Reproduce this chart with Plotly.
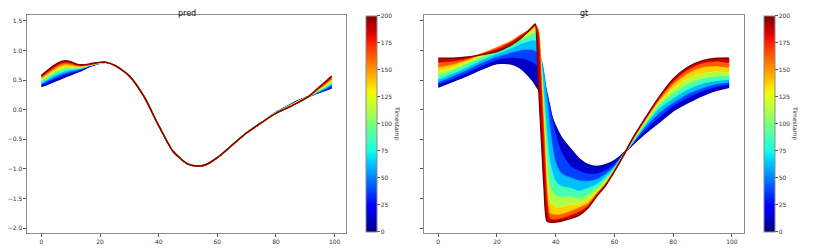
import plotly.graph_objects as go
import numpy as np

# ---------------- data ----------------
TIMESTAMPS = [0, 25, 50, 75, 100, 125, 150, 175, 200]

PRED_X = [0, 2, 4, 6, 8, 10, 12, 14, 16, 18, 20, 22, 25, 30, 35, 40, 45, 50, 53, 56, 60, 65, 70, 75, 80, 84, 88, 91, 94, 97, 99]
PRED_T0   = [0.39, 0.43, 0.47, 0.51, 0.55, 0.59, 0.63, 0.67, 0.72, 0.76, 0.79, 0.80, 0.75, 0.57, 0.22, -0.27, -0.71, -0.92, -0.95, -0.93, -0.81, -0.60, -0.39, -0.22, -0.05, 0.06, 0.16, 0.22, 0.28, 0.33, 0.37]
PRED_T25  = [0.42, 0.46, 0.51, 0.55, 0.59, 0.62, 0.65, 0.69, 0.73, 0.76, 0.79, 0.80, 0.75, 0.57, 0.22, -0.27, -0.71, -0.92, -0.95, -0.93, -0.81, -0.60, -0.39, -0.22, -0.05, 0.06, 0.16, 0.22, 0.28, 0.34, 0.39]
PRED_T50  = [0.44, 0.49, 0.54, 0.59, 0.62, 0.65, 0.67, 0.70, 0.74, 0.77, 0.79, 0.80, 0.75, 0.57, 0.22, -0.27, -0.71, -0.92, -0.95, -0.93, -0.81, -0.60, -0.39, -0.22, -0.05, 0.055, 0.155, 0.22, 0.29, 0.36, 0.42]
PRED_T75  = [0.46, 0.52, 0.58, 0.62, 0.66, 0.68, 0.69, 0.71, 0.74, 0.77, 0.79, 0.80, 0.75, 0.57, 0.22, -0.27, -0.71, -0.92, -0.95, -0.93, -0.81, -0.60, -0.39, -0.22, -0.05, 0.05, 0.15, 0.22, 0.30, 0.38, 0.44]
PRED_T100 = [0.49, 0.55, 0.61, 0.66, 0.69, 0.70, 0.71, 0.72, 0.75, 0.77, 0.79, 0.80, 0.75, 0.57, 0.22, -0.27, -0.71, -0.92, -0.95, -0.93, -0.81, -0.60, -0.39, -0.22, -0.06, 0.05, 0.15, 0.22, 0.31, 0.40, 0.47]
PRED_T125 = [0.51, 0.58, 0.65, 0.70, 0.73, 0.73, 0.72, 0.73, 0.75, 0.78, 0.79, 0.80, 0.75, 0.57, 0.22, -0.27, -0.71, -0.92, -0.95, -0.93, -0.81, -0.60, -0.39, -0.22, -0.06, 0.045, 0.145, 0.22, 0.32, 0.42, 0.50]
PRED_T150 = [0.54, 0.61, 0.68, 0.74, 0.77, 0.76, 0.74, 0.74, 0.76, 0.78, 0.80, 0.80, 0.75, 0.57, 0.22, -0.27, -0.71, -0.92, -0.95, -0.93, -0.81, -0.60, -0.39, -0.22, -0.06, 0.04, 0.14, 0.22, 0.33, 0.44, 0.52]
PRED_T175 = [0.56, 0.64, 0.71, 0.77, 0.80, 0.79, 0.76, 0.75, 0.76, 0.78, 0.80, 0.80, 0.75, 0.57, 0.22, -0.27, -0.71, -0.92, -0.95, -0.93, -0.81, -0.60, -0.39, -0.22, -0.06, 0.035, 0.135, 0.22, 0.34, 0.46, 0.55]
PRED_T200 = [0.58, 0.66, 0.74, 0.80, 0.83, 0.81, 0.77, 0.76, 0.77, 0.79, 0.80, 0.80, 0.75, 0.57, 0.22, -0.27, -0.71, -0.92, -0.95, -0.93, -0.81, -0.60, -0.39, -0.22, -0.06, 0.03, 0.13, 0.22, 0.35, 0.48, 0.57]

GT_X = [0, 5, 10, 15, 20, 25, 28, 30, 32, 33, 34, 35, 36, 37, 38, 40, 42, 45, 48, 51, 54, 57, 60, 63, 66, 70, 75, 80, 85, 90, 95, 99]
GT_T0   = [0.38, 0.48, 0.58, 0.69, 0.78, 0.77, 0.70, 0.61, 0.50, 0.43, 0.35, 0.27, 0.17, 0.07, -0.04, -0.28, -0.47, -0.66, -0.83, -0.93, -0.96, -0.93, -0.86, -0.74, -0.60, -0.42, -0.22, -0.02, 0.12, 0.24, 0.33, 0.38]
GT_T25  = [0.43, 0.52, 0.63, 0.74, 0.84, 0.88, 0.87, 0.85, 0.80, 0.77, 0.72, 0.62, 0.48, 0.28, 0.05, -0.40, -0.72, -0.95, -1.03, -1.08, -1.08, -1.02, -0.92, -0.75, -0.59, -0.37, -0.14, 0.06, 0.20, 0.31, 0.39, 0.43]
GT_T50  = [0.47, 0.57, 0.68, 0.80, 0.90, 0.97, 1.01, 1.02, 1.02, 1.00, 0.95, 0.85, 0.60, 0.20, -0.30, -0.90, -1.08, -1.15, -1.20, -1.21, -1.18, -1.09, -0.96, -0.76, -0.57, -0.32, -0.06, 0.12, 0.27, 0.37, 0.44, 0.47]
GT_T75  = [0.52, 0.62, 0.73, 0.85, 0.95, 1.05, 1.12, 1.15, 1.18, 1.18, 1.12, 0.80, 0.20, -0.45, -0.90, -1.22, -1.30, -1.33, -1.38, -1.33, -1.27, -1.15, -0.99, -0.77, -0.56, -0.28, 0.02, 0.20, 0.35, 0.45, 0.50, 0.52]
GT_T100 = [0.58, 0.67, 0.78, 0.89, 0.99, 1.11, 1.19, 1.23, 1.28, 1.30, 1.25, 0.75, 0.00, -0.85, -1.30, -1.45, -1.48, -1.47, -1.50, -1.44, -1.34, -1.19, -1.01, -0.77, -0.54, -0.25, 0.08, 0.28, 0.44, 0.53, 0.57, 0.58]
GT_T125 = [0.64, 0.72, 0.82, 0.92, 1.02, 1.15, 1.24, 1.28, 1.34, 1.37, 1.32, 0.70, -0.20, -1.10, -1.55, -1.65, -1.65, -1.61, -1.60, -1.53, -1.39, -1.22, -1.02, -0.77, -0.53, -0.23, 0.12, 0.36, 0.53, 0.62, 0.65, 0.64]
GT_T150 = [0.72, 0.77, 0.85, 0.95, 1.05, 1.16, 1.26, 1.31, 1.38, 1.41, 1.36, 0.60, -0.40, -1.35, -1.75, -1.78, -1.77, -1.72, -1.66, -1.59, -1.42, -1.25, -1.03, -0.78, -0.52, -0.21, 0.15, 0.43, 0.62, 0.72, 0.74, 0.72]
GT_T175 = [0.80, 0.82, 0.87, 0.94, 1.02, 1.14, 1.24, 1.31, 1.40, 1.44, 1.30, 0.40, -0.60, -1.55, -1.84, -1.86, -1.84, -1.79, -1.73, -1.63, -1.44, -1.27, -1.04, -0.78, -0.51, -0.19, 0.18, 0.48, 0.68, 0.79, 0.82, 0.80]
GT_T200 = [0.87, 0.87, 0.89, 0.93, 0.98, 1.10, 1.20, 1.29, 1.39, 1.45, 0.55, -0.40, -1.30, -1.88, -1.90, -1.90, -1.88, -1.84, -1.78, -1.66, -1.46, -1.28, -1.04, -0.78, -0.50, -0.18, 0.20, 0.52, 0.72, 0.83, 0.87, 0.87]

X_TICKS = [0, 20, 40, 60, 80, 100]
Y_TICKS = [-2.0, -1.5, -1.0, -0.5, 0.0, 0.5, 1.0, 1.5]
CBAR_TICKS = [0, 25, 50, 75, 100, 125, 150, 175, 200]

PRED_CURVES = [PRED_T0, PRED_T25, PRED_T50, PRED_T75, PRED_T100, PRED_T125, PRED_T150, PRED_T175, PRED_T200]
GT_CURVES = [GT_T0, GT_T25, GT_T50, GT_T75, GT_T100, GT_T125, GT_T150, GT_T175, GT_T200]


# ---------------- matplotlib "jet" colormap ----------------
def jet(v):
    r = np.interp(v, [0, 0.35, 0.66, 0.89, 1], [0, 0, 1, 1, 0.5])
    g = np.interp(v, [0, 0.125, 0.375, 0.64, 0.91, 1], [0, 0, 1, 1, 0, 0])
    b = np.interp(v, [0, 0.11, 0.34, 0.65, 1], [0.5, 1, 1, 0, 0])
    return "rgb(%d,%d,%d)" % (round(r * 255), round(g * 255), round(b * 255))


JET_SCALE = [[float(s), jet(s)] for s in np.linspace(0, 1, 41)]
TMAX = 200.0

# the page body has an 8px default margin: lay out in reference pixels minus 8
OFF = 8
W, H = 830 - OFF, 249 - OFF
FONT = "DejaVu Sans"
SPINE = "#8c8c8c"
TICKC = "#555555"


def px(x):
    return (x - OFF) / W


def py(y):
    return 1 - (y - OFF) / H


fig = go.Figure()


def add_panel(xs, curves, xa, ya):
    prev = None
    prev_t = None
    for t, ys in zip(TIMESTAMPS, curves):
        if prev is not None:
            mid = (t + prev_t) / 2.0 / TMAX
            fig.add_trace(go.Scatter(
                x=list(xs) + list(xs)[::-1], y=list(ys) + list(prev)[::-1],
                mode="lines", fill="toself", fillcolor=jet(mid),
                line=dict(width=0, shape="spline", smoothing=0.7),
                xaxis=xa, yaxis=ya, hoverinfo="skip", showlegend=False))
        fig.add_trace(go.Scatter(
            x=xs, y=ys, mode="lines",
            line=dict(color=jet(t / TMAX), width=1.4, shape="spline", smoothing=0.7),
            xaxis=xa, yaxis=ya, hoverinfo="skip", showlegend=False))
        prev, prev_t = ys, t


add_panel(PRED_X, PRED_CURVES, "x", "y")
add_panel(GT_X, GT_CURVES, "x2", "y2")


def add_cbar(x_left_px, xa, ya):
    cbar = dict(
        x=px(x_left_px), xanchor="left", xpad=0, ypad=0,
        y=py((15.7 + 231.7) / 2), yanchor="middle",
        len=(231.7 - 15.7) / H, lenmode="fraction",
        thickness=10.5, thicknessmode="pixels",
        outlinewidth=1, outlinecolor=SPINE,
        tickvals=CBAR_TICKS, ticks="outside", ticklen=2.5,
        tickcolor=TICKC, tickwidth=0.8,
        tickfont=dict(family=FONT, size=6, color="#333333"))
    marker = dict(color=[0], cmin=0, cmax=200, colorscale=JET_SCALE,
                  showscale=True, colorbar=cbar)
    fig.add_trace(go.Scatter(x=[None], y=[None], mode="markers", xaxis=xa, yaxis=ya,
                             showlegend=False, marker=marker))


add_cbar(365.0, "x", "y")
add_cbar(763.5, "x2", "y2")

axis_common = dict(showgrid=False, zeroline=False, showline=True, mirror=True,
                   linecolor=SPINE, linewidth=1, ticks="outside", ticklen=2.5,
                   tickcolor=TICKC, tickwidth=0.8,
                   tickfont=dict(family=FONT, size=6, color="#333333"))

fig.update_layout(
    width=W, height=H, margin=dict(l=0, r=0, t=0, b=0),
    paper_bgcolor="white", plot_bgcolor="white",
    font=dict(family=FONT, size=6, color="#333333"),
    showlegend=False,
    xaxis=dict(domain=[px(25), px(345)], range=[-4.95, 103.95], tickvals=X_TICKS, **axis_common),
    yaxis=dict(domain=[py(233), py(15)], range=[-2.083, 1.6], tickvals=Y_TICKS, tickformat=".1f", **axis_common),
    xaxis2=dict(domain=[px(422.7), px(743.3)], range=[-4.95, 103.95], tickvals=X_TICKS, anchor="y2", **axis_common),
    yaxis2=dict(domain=[py(233), py(15)], range=[-2.083, 1.6], tickvals=Y_TICKS, anchor="x2",
                showticklabels=False, matches="y", **axis_common),
)

ann = []
for txt, cx in (("pred", 185), ("gt", 583)):
    ann.append(dict(text=txt, x=px(cx), y=1.0, xref="paper", yref="paper",
                    showarrow=False, xanchor="center", yanchor="top", borderpad=0,
                    font=dict(family=FONT, size=8, color="#111111")))
for cx in (396.7, 795.7):
    ann.append(dict(text="Timestamp", x=px(cx), y=py(123.7), xref="paper", yref="paper",
                    showarrow=False, xanchor="center", yanchor="middle", textangle=90,
                    font=dict(family=FONT, size=6, color="#333333")))
fig.update_layout(annotations=ann)

fig.write_html("out.html")
